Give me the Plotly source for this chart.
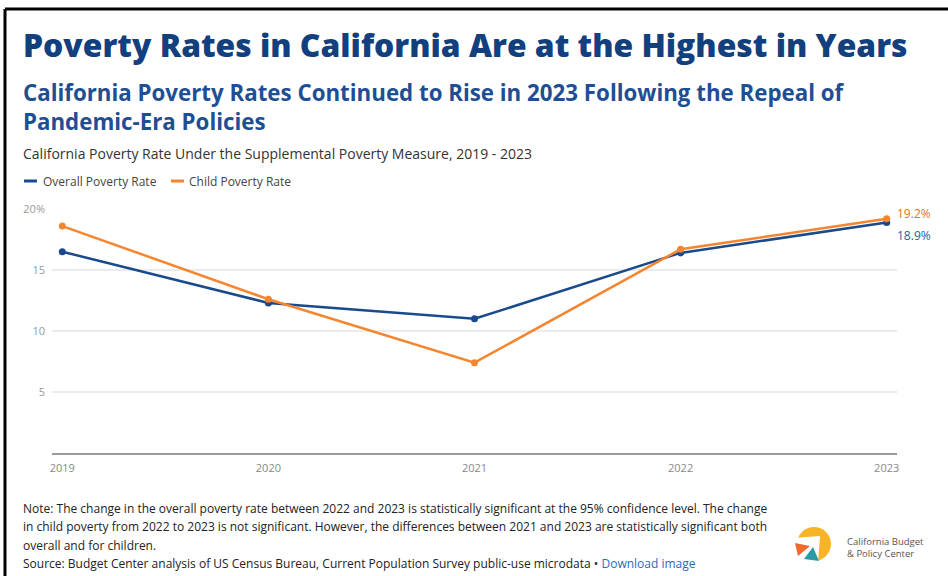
import plotly.graph_objects as go

years = [2019, 2020, 2021, 2022, 2023]
overall_rate = [16.5, 12.3, 11.0, 16.4, 18.9]
child_rate = [18.6, 12.6, 7.4, 16.7, 19.2]
series_names = ["Overall Poverty Rate", "Child Poverty Rate"]
y_ticks = [5, 10, 15, 20]
y_tick_labels = ["5", "10", "15", "20%"]

BLUE = "#1b4a8c"
ORANGE = "#f5852e"
TITLE_BLUE = "#123f7d"
SUB_BLUE = "#1e4f94"

W, H = 948, 576
L, R, T, B = 52, 51, 209, 123
PW, PH = W - L - R, H - T - B


def px(x):
    return (x - L) / PW


def py(y):
    return (H - B - y) / PH


FONT = "Open Sans"

fig = go.Figure()
fig.add_trace(go.Scatter(x=years, y=overall_rate, name=series_names[0], mode="lines+markers",
                         line=dict(color=BLUE, width=2.5), marker=dict(size=7, color=BLUE),
                         showlegend=False))
fig.add_trace(go.Scatter(x=years, y=child_rate, name=series_names[1], mode="lines+markers",
                         line=dict(color=ORANGE, width=2.5), marker=dict(size=7, color=ORANGE),
                         showlegend=False))

ann = []
shapes = []

# end labels
ann.append(dict(x=years[-1], y=child_rate[-1], xref="x", yref="y", text=f"{child_rate[-1]:.1f}%",
                showarrow=False, xanchor="left", xshift=8, yshift=5,
                font=dict(family=FONT, size=12, color="#e07528")))
ann.append(dict(x=years[-1], y=overall_rate[-1], xref="x", yref="y", text=f"{overall_rate[-1]:.1f}%",
                showarrow=False, xanchor="left", xshift=8, yshift=-13,
                font=dict(family=FONT, size=12, color="#2a5ea8")))

# titles
ann.append(dict(x=px(21), y=py(44), xref="paper", yref="paper", xanchor="left", yanchor="middle",
                showarrow=False, text="Poverty Rates in California Are at the Highest in Years",
                font=dict(family=FONT, size=31.8, color=TITLE_BLUE, weight=800)))
ann.append(dict(x=px(21), y=py(107), xref="paper", yref="paper", xanchor="left", yanchor="middle",
                showarrow=False, align="left",
                text="California Poverty Rates Continued to Rise in 2023 Following the Repeal of<br>Pandemic-Era Policies",
                font=dict(family=FONT, size=22.3, color=SUB_BLUE, weight=700)))
ann.append(dict(x=px(21), y=py(153), xref="paper", yref="paper", xanchor="left", yanchor="middle",
                showarrow=False,
                text="California Poverty Rate Under the Supplemental Poverty Measure, 2019 - 2023",
                font=dict(family=FONT, size=14, color="#333333")))

# legend
for (x0, x1, tx, col, name) in [(24, 37, 41, BLUE, series_names[0]), (171, 184, 187, ORANGE, series_names[1])]:
    shapes.append(dict(type="line", xref="paper", yref="paper", x0=px(x0), x1=px(x1), y0=py(181), y1=py(181),
                       line=dict(color=col, width=3)))
    ann.append(dict(x=px(tx), y=py(181), xref="paper", yref="paper", xanchor="left", yanchor="middle",
                    showarrow=False, text=name, font=dict(family=FONT, size=12, color="#444444")))

# notes
notes = [
    "Note: The change in the overall poverty rate between 2022 and 2023 is statistically significant at the 95% confidence level. The change",
    "in child poverty from 2022 to 2023 is not significant. However, the differences between 2021 and 2023 are statistically significant both",
    "overall and for children.",
    "Source: Budget Center analysis of US Census Bureau, Current Population Survey public-use microdata • <span style='color:#2b6cb8'>Download image</span>",
]
for i, line in enumerate(notes):
    yy = [508, 526.5, 545, 563][i]
    ann.append(dict(x=px(21), y=py(yy), xref="paper", yref="paper", xanchor="left", yanchor="middle",
                    showarrow=False, text=line, font=dict(family=FONT, size=12, color="#222222")))

# logo
cx, cy, r = 814, 544, 17
shapes.append(dict(type="circle", xref="paper", yref="paper", x0=px(cx - r), x1=px(cx + r),
                   y0=py(cy + r), y1=py(cy - r), fillcolor="#f8b427", line=dict(width=0)))


def path(points):
    return "M " + " L ".join(f"{px(a):.5f},{py(b):.5f}" for a, b in points) + " Z"


shapes.append(dict(type="path", xref="paper", yref="paper",
                   path=path([(793, 538), (820, 536), (818, 563), (793, 563)]),
                   fillcolor="white", line=dict(width=0)))
shapes.append(dict(type="path", xref="paper", yref="paper",
                   path=path([(795, 543), (810, 546), (798, 556)]),
                   fillcolor="#ef6a2c", line=dict(width=0)))
shapes.append(dict(type="path", xref="paper", yref="paper",
                   path=path([(813, 547), (819, 561), (804, 559)]),
                   fillcolor="#2b9aa7", line=dict(width=0)))
ann.append(dict(x=px(845), y=py(547), xref="paper", yref="paper", xanchor="left", yanchor="middle",
                showarrow=False, align="left", text="California Budget<br>&amp; Policy Center",
                font=dict(family=FONT, size=9.5, color="#555555")))

# border
shapes.append(dict(type="line", xref="paper", yref="paper", x0=px(5), x1=px(948), y0=py(9), y1=py(9),
                   line=dict(color="black", width=3)))
shapes.append(dict(type="line", xref="paper", yref="paper", x0=px(5), x1=px(5), y0=py(9), y1=py(576),
                   line=dict(color="black", width=3)))

fig.update_layout(
    width=W, height=H,
    margin=dict(l=L, r=R, t=T, b=B),
    paper_bgcolor="white", plot_bgcolor="white",
    annotations=ann, shapes=shapes,
    xaxis=dict(range=[2018.95, 2023.05], tickvals=years, ticktext=[str(y) for y in years],
               showgrid=False, showline=True, linecolor="#9a9a9a", linewidth=2, zeroline=False,
               tickfont=dict(family=FONT, size=11, color="#888888"), ticks="", ticklen=0,
               ticklabelstandoff=4),
    yaxis=dict(range=[0, 20], tickvals=y_ticks, ticktext=y_tick_labels, showgrid=True,
               gridcolor="#ebebeb", gridwidth=1.5, zeroline=False, showline=False,
               tickfont=dict(family=FONT, size=11, color="#999999"), ticks="", ticklabelstandoff=6),
    font=dict(family=FONT),
)

fig.write_html("out.html", config={"displayModeBar": False},
               post_script="document.body.style.margin='0';document.body.style.overflow='hidden';")
